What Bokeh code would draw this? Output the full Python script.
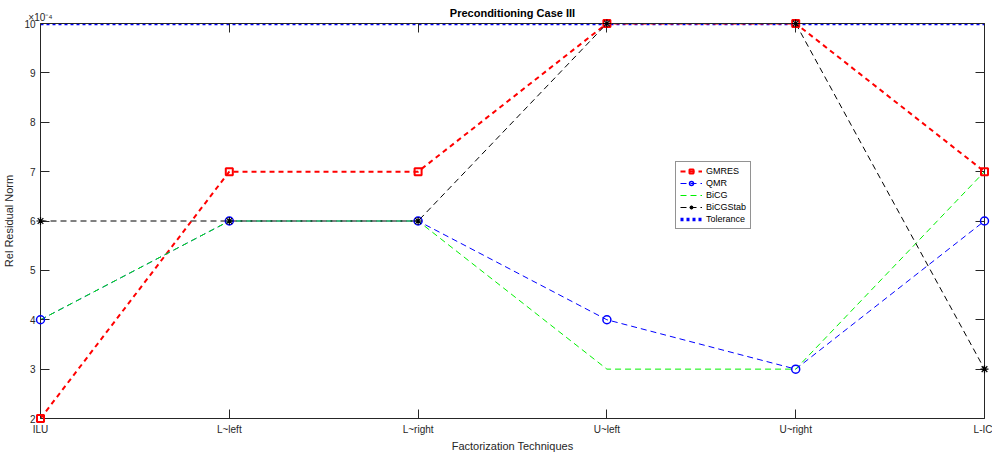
from bokeh.plotting import figure
from bokeh.models import (Range1d, LinearAxis, FixedTicker, Legend, LegendItem)
from bokeh.embed import file_html
from bokeh.resources import INLINE

categories = ["ILU", "L~left", "L~right", "U~left", "U~right", "L-IC"]
xpos = [1, 2, 3, 4, 5, 6]
gmres = [2, 7, 7, 10, 10, 7]
qmr = [4, 6, 6, 4, 3, 6]
bicg = [4, 6, 6, 3, 3, 7]
bicgstab = [6, 6, 6, 10, 10, 3]
tolerance = [10, 10, 10, 10, 10, 10]
yticks = [2, 3, 4, 5, 6, 7, 8, 9, 10]
exponent_label = "×10⁻⁴"
chart_title = "Preconditioning Case III"

FONT = "Liberation Sans"
TXT = "#262626"

p = figure(width=992, height=454, output_backend="svg", toolbar_location=None,
           x_range=Range1d(1, 6), y_range=Range1d(2, 10),
           min_border_left=39, min_border_right=8, min_border_top=23, min_border_bottom=33,
           x_axis_location=None, y_axis_location=None)
p.xgrid.visible = False
p.ygrid.visible = False
p.outline_line_color = None
p.background_fill_color = "white"

def style_axis(ax):
    ax.axis_line_color = TXT
    ax.axis_line_width = 1
    ax.major_tick_line_color = TXT
    ax.major_tick_in = 9
    ax.major_tick_out = 0
    ax.minor_tick_line_color = None
    ax.major_label_text_font = FONT
    ax.major_label_text_color = TXT
    ax.major_label_text_font_size = "10px"
    ax.major_label_standoff = 5
    ax.axis_label_text_font = FONT
    ax.axis_label_text_color = TXT
    ax.axis_label_text_font_size = "11px"
    ax.axis_label_text_font_style = "normal"

xt = FixedTicker(ticks=xpos)
yt = FixedTicker(ticks=yticks)

bottom = LinearAxis(ticker=xt, axis_label="Factorization Techniques",
                    major_label_overrides={x: c for x, c in zip(xpos, categories)})
style_axis(bottom)
bottom.axis_label_standoff = 2
p.add_layout(bottom, "below")

top_over = {x: "" for x in xpos}
top_over[xpos[0]] = exponent_label
top = LinearAxis(ticker=xt, major_label_overrides=top_over, axis_label=chart_title)
style_axis(top)
top.major_label_standoff = 1
top.major_label_text_align = "left"
top.major_label_text_font_size = "10px"
top.axis_label_text_font_style = "bold"
top.axis_label_text_color = "#000000"
top.axis_label_standoff = -10
p.add_layout(top, "above")

left = LinearAxis(ticker=yt, axis_label="Rel Residual Norm")
style_axis(left)
left.axis_label_standoff = 6
p.add_layout(left, "left")

right = LinearAxis(ticker=yt, major_label_overrides={y: "" for y in yticks})
style_axis(right)
right.major_label_standoff = 0
p.add_layout(right, "right")

# series
tol_l = p.line(xpos, tolerance, line_color="#0000ff", line_width=3.5, line_dash="3 3")

g_l = p.line(xpos, gmres, line_color="#ff0000", line_width=2, line_dash="5 4")
g_m = p.scatter(xpos, gmres, marker="square", size=7, line_color="#ff0000", line_width=2,
                fill_color=None, level="overlay")

q_l = p.line(xpos, qmr, line_color="#0000ff", line_width=1, line_dash="6 4")
q_m = p.scatter(xpos, qmr, marker="circle", size=8, line_color="#0000ff", line_width=1.5,
                fill_color=None, level="overlay")

b_l = p.line(xpos, bicg, line_color="#00f000", line_width=1, line_dash="6 4")

s_l = p.line(xpos, bicgstab, line_color="#000000", line_width=1, line_dash="6 4")
s_m = p.scatter(xpos, bicgstab, marker="asterisk", size=8, line_color="#000000", line_width=1.2,
                level="overlay")

legend = Legend(items=[
    LegendItem(label="GMRES", renderers=[g_l, g_m]),
    LegendItem(label="QMR", renderers=[q_l, q_m]),
    LegendItem(label="BiCG", renderers=[b_l]),
    LegendItem(label="BiCGStab", renderers=[s_l, s_m]),
    LegendItem(label="Tolerance", renderers=[tol_l]),
], location=(635, 189))
legend.label_text_font = FONT
legend.label_text_font_size = "9px"
legend.label_text_color = "#000000"
legend.label_height = 10
legend.label_standoff = 4
legend.glyph_width = 22
legend.glyph_height = 10
legend.spacing = 2
legend.padding = 4
legend.margin = 0
legend.border_line_color = TXT
legend.border_line_width = 1
legend.background_fill_color = "white"
legend.background_fill_alpha = 1
p.add_layout(legend, "center")

open("out.html", "w").write(file_html(p, INLINE))
